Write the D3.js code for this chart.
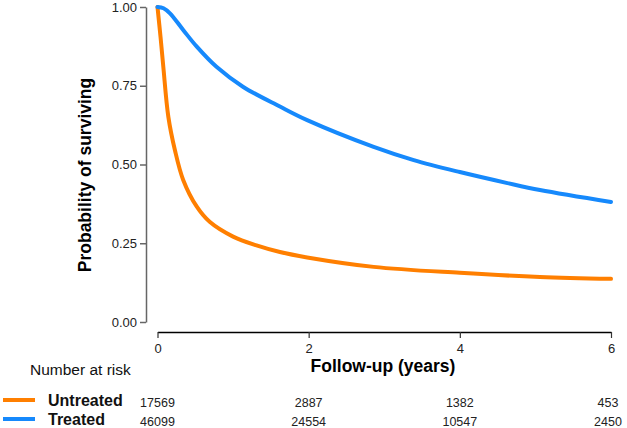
<!DOCTYPE html>
<html>
<head>
<meta charset="utf-8">
<script src="https://cdnjs.cloudflare.com/ajax/libs/d3/7.8.5/d3.min.js"></script>
<style>
  body { margin: 0; background: #fff; }
  text { font-family: Arial, "Liberation Sans", sans-serif; }
</style>
</head>
<body>
<script>
// survival curves
var untreatedT = [0, 0.04, 0.077, 0.143, 0.23, 0.34, 0.52, 0.69, 1.0, 1.31, 1.62, 1.98, 2.86, 4.0, 5.06, 6.0];
var untreatedS = [1.0, 0.905, 0.81, 0.652, 0.546, 0.451, 0.366, 0.318, 0.271, 0.243, 0.222, 0.205, 0.175, 0.156, 0.143, 0.137];
var treatedT = [0, 0.08, 0.165, 0.34, 0.52, 0.78, 1.13, 1.62, 1.98, 2.86, 3.39, 4.0, 4.63, 5.06, 6.0];
var treatedS = [1.0, 0.996, 0.98, 0.927, 0.874, 0.81, 0.747, 0.684, 0.641, 0.556, 0.514, 0.476, 0.441, 0.419, 0.381];

var groups = ["Untreated", "Treated"];
var colors = ["#ff7f00", "#1689fc"];
var riskTimes = [0, 2, 4, 6];
var riskUntreated = [17569, 2887, 1382, 453];
var riskTreated = [46099, 24554, 10547, 2450];
var yTicks = [0, 0.25, 0.5, 0.75, 1];

var width = 627, height = 428;

var svg = d3.select("body").append("svg")
    .attr("width", width)
    .attr("height", height);

var x = d3.scaleLinear().domain([0, 6]).range([157.5, 611]);
var y = d3.scaleLinear().domain([0, 1]).range([322, 7]);

// y axis
var yAxis = svg.append("g")
    .attr("transform", "translate(146,0)")
    .call(d3.axisLeft(y).tickValues(yTicks).tickFormat(d3.format(".2f")).tickSize(6).tickSizeOuter(0));
yAxis.select(".domain").attr("stroke", "#666").attr("stroke-width", 1.5);
yAxis.selectAll(".tick line").attr("stroke", "#666").attr("stroke-width", 1.5);
yAxis.selectAll(".tick text").attr("font-size", 13).attr("fill", "#222").attr("x", -9);

// x axis
var xAxis = svg.append("g")
    .attr("transform", "translate(0,332)")
    .call(d3.axisBottom(x).tickValues(riskTimes).tickFormat(d3.format("d")).tickSize(6).tickSizeOuter(0));
xAxis.select(".domain").attr("stroke", "#000").attr("stroke-width", 1.5);
xAxis.selectAll(".tick line").attr("stroke", "#333").attr("stroke-width", 1.2);
xAxis.selectAll(".tick text").attr("font-size", 13).attr("fill", "#222").attr("y", 12);

svg.append("text")
    .attr("transform", "translate(91,175) rotate(-90)")
    .attr("text-anchor", "middle")
    .attr("font-size", 17.5)
    .attr("font-weight", "bold")
    .text("Probability of surviving");

svg.append("text")
    .attr("x", 383).attr("y", 372)
    .attr("text-anchor", "middle")
    .attr("font-size", 17.5)
    .attr("font-weight", "bold")
    .text("Follow-up (years)");

// curves
var line = d3.line()
    .x(function(d) { return x(d[0]); })
    .y(function(d) { return y(d[1]); })
    .curve(d3.curveCatmullRom.alpha(0.5));

var series = [d3.zip(untreatedT, untreatedS), d3.zip(treatedT, treatedS)];

svg.selectAll("path.curve")
    .data(series)
  .enter().append("path")
    .attr("class", "curve")
    .attr("fill", "none")
    .attr("stroke", function(d, i) { return colors[i]; })
    .attr("stroke-width", 4)
    .attr("stroke-linecap", "round")
    .attr("d", line);

// number at risk table
svg.append("text")
    .attr("x", 30).attr("y", 375)
    .attr("font-size", 15.5)
    .attr("fill", "#111")
    .text("Number at risk");

var rowY = [401, 420];
var risks = [riskUntreated, riskTreated];

groups.forEach(function(g, i) {
  svg.append("line")
      .attr("x1", 3).attr("x2", 35)
      .attr("y1", rowY[i] - 1).attr("y2", rowY[i] - 1)
      .attr("stroke", colors[i])
      .attr("stroke-width", 4);
  svg.append("text")
      .attr("x", 48).attr("y", rowY[i] + 5)
      .attr("font-size", 16)
      .attr("font-weight", "bold")
      .attr("fill", "#111")
      .text(g);
  svg.selectAll("text.risk" + i)
      .data(risks[i])
    .enter().append("text")
      .attr("class", "risk" + i)
      .attr("x", function(d, j) { return j === 3 ? x(riskTimes[j]) - 3 : x(riskTimes[j]); })
      .attr("y", rowY[i] + 6)
      .attr("text-anchor", "middle")
      .attr("font-size", 12.5)
      .attr("fill", "#222")
      .text(function(d) { return d; });
});
</script>
</body>
</html>
